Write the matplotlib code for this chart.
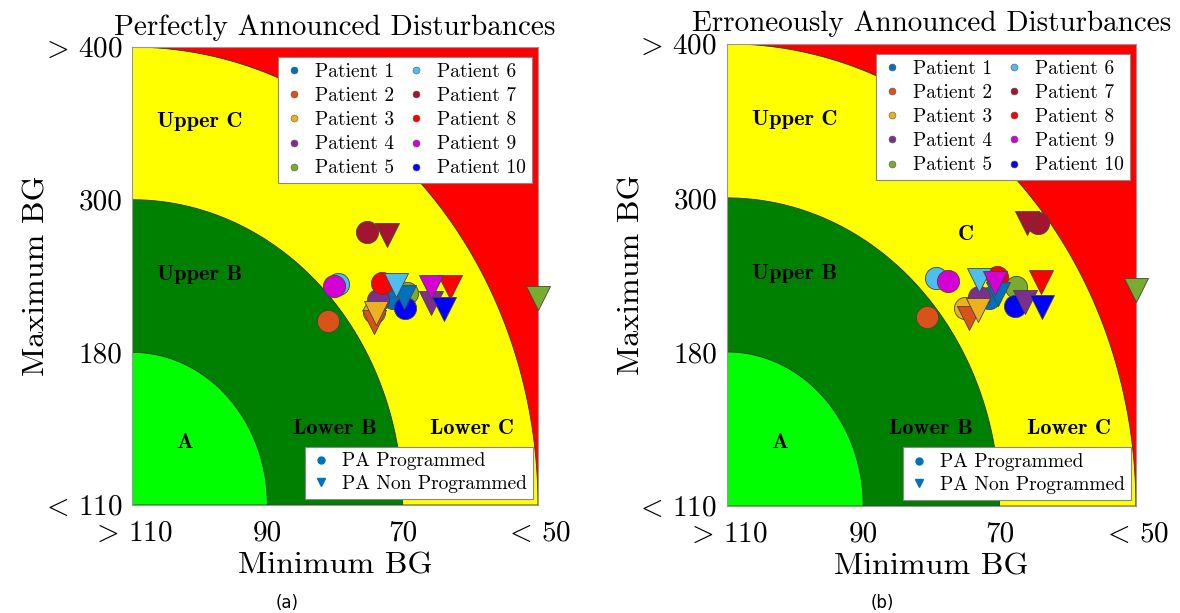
import numpy as np
import matplotlib
matplotlib.use("Agg")
import matplotlib.pyplot as plt
from matplotlib.lines import Line2D

plt.rcParams['mathtext.fontset'] = 'cm'
plt.rcParams['font.family'] = 'cmr10'
plt.rcParams['axes.formatter.use_mathtext'] = True

# grid breakpoints (min BG on x, max BG on y)
x_bg = [110, 90, 70, 50]
y_bg = [110, 180, 300, 400]
x_ticklabels = [r'$>\,110$', '90', '70', r'$<\,50$']
y_ticklabels = [r'$<\,110$', '180', '300', r'$>\,400$']

patients = [f"Patient {i}" for i in range(1, 11)]
colors = ['#0072BD', '#D95319', '#EDB120', '#7E2F8E', '#77AC30',
          '#4DBEEE', '#A2142F', '#FF0000', '#D400D4', '#0000FF']

# (a) perfectly announced disturbances
a_prog_min = [71.4, 81.0, 74.3, 73.7, 69.4, 79.5, 75.2, 73.0, 80.1, 69.7]
a_prog_max = [222.7, 204.8, 212.0, 221.1, 226.4, 233.7, 274.8, 234.2, 232.3, 214.6]
a_nonp_min = [69.8, 74.2, 74.0, 65.8, 50.0, 71.0, 72.3, 63.0, 65.8, 63.9]
a_nonp_max = [223.7, 204.0, 210.6, 218.5, 222.5, 232.9, 272.2, 231.1, 231.1, 213.8]

# (b) erroneously announced disturbances
b_prog_min = [71.5, 80.6, 75.1, 73.0, 67.6, 79.3, 64.4, 70.3, 77.6, 67.8]
b_prog_max = [222.0, 207.5, 214.0, 222.6, 230.9, 237.4, 280.8, 238.0, 235.6, 215.9]
b_nonp_min = [70.2, 74.5, 73.2, 66.2, 50.0, 73.0, 66.0, 63.9, 70.7, 63.8]
b_nonp_max = [225.2, 206.3, 212.7, 219.2, 228.4, 236.0, 280.3, 234.8, 234.0, 215.3]

zone_labels = ['A', 'Upper B', 'Lower B', 'Upper C', 'Lower C']
zone_pos = [(0.39, 0.41), (0.50, 1.51), (1.50, 0.50), (0.50, 2.51), (2.51, 0.50)]


def y_fwd(v):
    return np.interp(v, y_bg, [0, 1, 2, 3])


def y_inv(u):
    return np.interp(u, [0, 1, 2, 3], y_bg)


def draw_panel(ax, title, pmin, pmax, nmin, nmax, extra_c=None):
    ax.set_yscale('function', functions=(y_fwd, y_inv))
    ax.set_xlim(110, 50)
    ax.set_ylim(110, 400)
    ax.set_facecolor('#FF0000')

    t = np.linspace(0, np.pi / 2, 300)
    for r, c in [(3, '#FFFF00'), (2, '#008000'), (1, '#00FF00')]:
        u = np.concatenate([[0], r * np.cos(t), [0]])
        v = np.concatenate([[0], r * np.sin(t), [0]])
        ax.fill(110 - 20 * u, y_inv(v), facecolor=c, edgecolor='#333333', lw=0.6)

    for lab, (u, v) in zip(zone_labels, zone_pos):
        ax.text(110 - 20 * u, y_inv(v), lab, family='cmb10', fontsize=16,
                ha='center', va='center')
    if extra_c is not None:
        ax.text(110 - 20 * extra_c[0], y_inv(extra_c[1]), 'C', family='cmb10',
                fontsize=16, ha='center', va='center')

    for i in range(10):
        ax.scatter(pmin[i], pmax[i], s=255, marker='o', color=colors[i],
                   edgecolors='#444444', linewidths=0.6, clip_on=False, zorder=3)
    for i in range(10):
        ax.scatter(nmin[i], nmax[i], s=300, marker='v', color=colors[i],
                   edgecolors='#444444', linewidths=0.6, clip_on=False, zorder=3)

    ax.set_xticks(x_bg)
    ax.set_xticklabels(x_ticklabels)
    ax.set_yticks(y_bg)
    ax.set_yticklabels(y_ticklabels)
    ax.tick_params(length=0, labelsize=21)
    ax.tick_params(axis='x', pad=11)
    ax.tick_params(axis='y', pad=7)
    ax.minorticks_off()
    for s in ax.spines.values():
        s.set_color('#999999')
        s.set_linewidth(0.8)
    ax.set_xlabel('Minimum BG', fontsize=23, labelpad=4)
    ax.set_ylabel('Maximum BG', fontsize=23)
    ax.yaxis.set_label_coords(-0.2, 0.5)
    ax.set_title(title, fontsize=21, pad=9)

    h1 = [Line2D([], [], ls='none', marker='o', markersize=5, color=c,
                 markeredgecolor='#555555', markeredgewidth=0.4) for c in colors]
    leg1 = ax.legend(h1, patients, ncol=2, loc='upper right',
                     bbox_to_anchor=(0.985, 0.978), borderaxespad=0,
                     fontsize=14, fancybox=False, framealpha=1,
                     edgecolor='#888888', handlelength=1.0, handletextpad=0.6,
                     columnspacing=0.6, labelspacing=0.32, borderpad=0.3)
    leg1.get_frame().set_linewidth(0.8)
    ax.add_artist(leg1)
    h2 = [Line2D([], [], ls='none', marker='o', markersize=5, color='#0072BD'),
          Line2D([], [], ls='none', marker='v', markersize=6, color='#0072BD')]
    leg2 = ax.legend(h2, ['PA Programmed', 'PA Non Programmed'], loc='lower right',
                     bbox_to_anchor=(0.988, 0.013), borderaxespad=0,
                     fontsize=14, fancybox=False, framealpha=1,
                     edgecolor='#888888', handlelength=1.0, handletextpad=0.6,
                     labelspacing=0.25, borderpad=0.3)
    leg2.get_frame().set_linewidth(0.8)


fig = plt.figure(figsize=(11.8, 6.13), dpi=100)
ax1 = fig.add_axes([0.1119, 0.1762, 0.344, 0.747])
ax2 = fig.add_axes([0.616, 0.1745, 0.3466, 0.754])

draw_panel(ax1, 'Perfectly Announced Disturbances',
           a_prog_min, a_prog_max, a_nonp_min, a_nonp_max)
draw_panel(ax2, 'Erroneously Announced Disturbances',
           b_prog_min, b_prog_max, b_nonp_min, b_nonp_max, extra_c=(1.75, 1.76))

fig.text(287 / 1180, 1 - 603 / 613, '(a)', family='DejaVu Sans', fontsize=12,
         ha='center', va='center')
fig.text(882 / 1180, 1 - 603 / 613, '(b)', family='DejaVu Sans', fontsize=12,
         ha='center', va='center')

fig.savefig('out.png', dpi=100)
